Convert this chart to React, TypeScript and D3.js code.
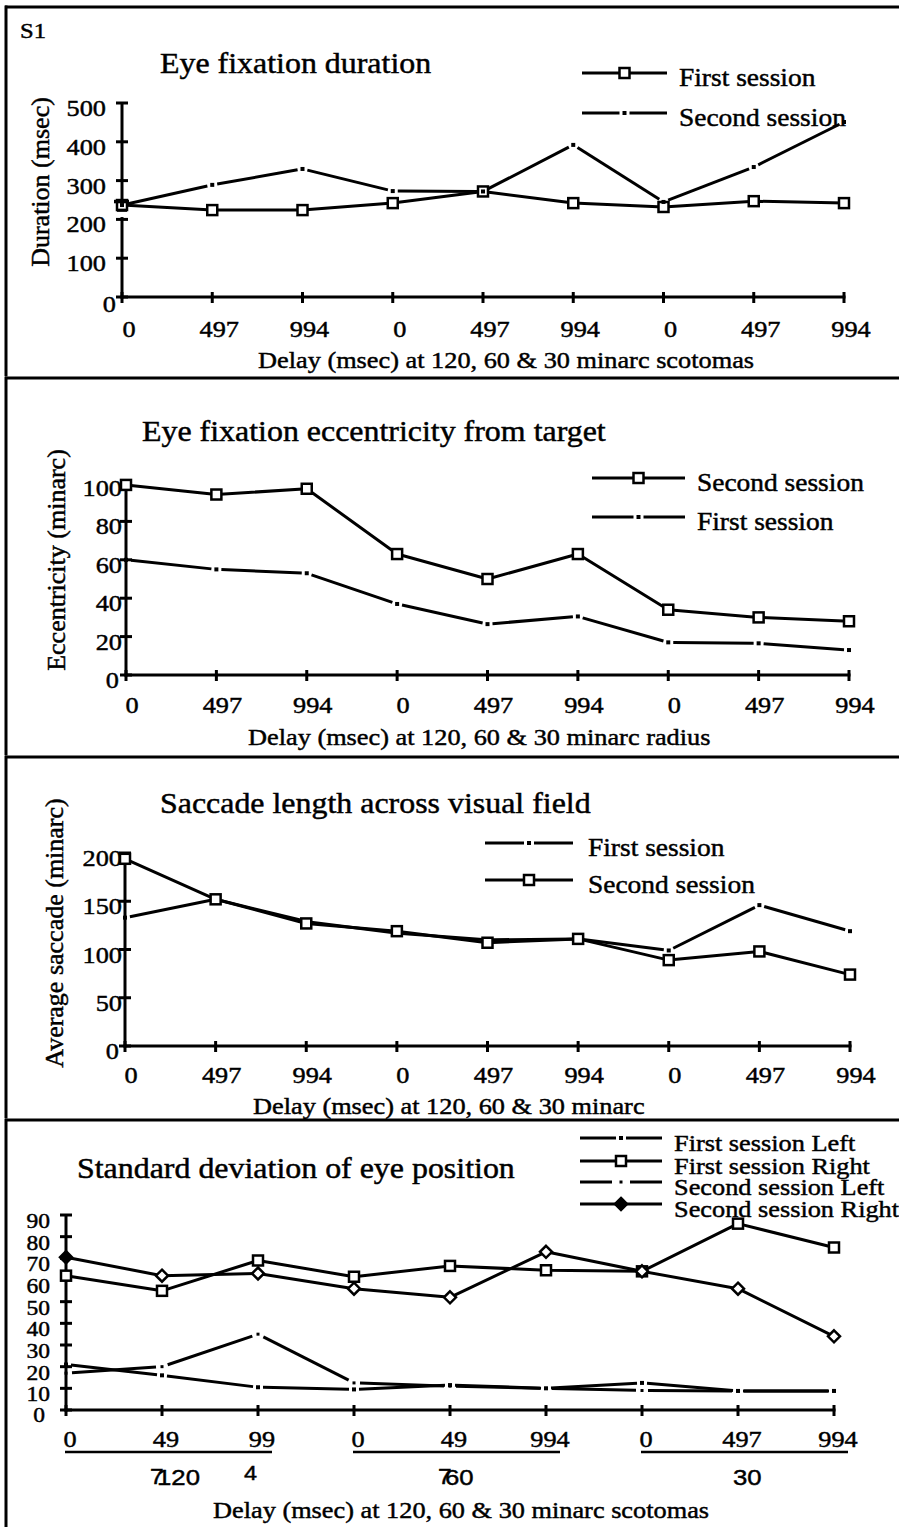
import { useEffect, useRef } from 'react';
import * as d3 from 'd3';

// shared x categories: delay (msec) for 120, 60 and 30 minarc scotomas
const delays = ['0', '497', '994', '0', '497', '994', '0', '497', '994'];
const scotomas = ['120', '60', '30'];

// Eye fixation duration (msec)
const durationTicks = [0, 100, 200, 300, 400, 500];
const durationFirst = [237, 224, 224, 242, 272, 242, 232, 247, 242];
const durationSecond = [237, 289, 330, 273, 272, 392, 245, 335, 451];

// Eye fixation eccentricity from target (minarc)
const eccTicks = [0, 20, 40, 60, 80, 100];
const eccSecond = [99, 94, 97, 63, 50, 63, 34, 30, 28];
const eccFirst = [60, 55, 53, 37, 26.5, 30.5, 17, 16.5, 13];

// Saccade length (minarc)
const saccadeTicks = [0, 50, 100, 150, 200];
const saccadeFirst = [133, 152, 129, 117, 110, 111, 99, 146, 119];
const saccadeSecond = [194, 152, 127, 119, 107, 111, 89, 98, 74];

// Standard deviation of eye position
const sdTicks = [0, 10, 20, 30, 40, 50, 60, 70, 80, 90];
const sdDelays = ['0', '49', '99', '0', '49', '994', '0', '497', '994'];
const sdWrapped = [
  { i: 1, s: '7' },
  { i: 2, s: '4' },
  { i: 4, s: '7' },
];
const sdFirstLeft = [21, 16, 10.5, 9.5, 11.5, 10, 12.5, 8.8, 8.8];
const sdFirstRight = [62, 55, 69, 61.5, 66.5, 64.5, 64, 86, 75];
const sdSecondLeft = [17, 20, 35, 12.5, 11, 10, 9, 8.8, 8.8];
const sdSecondRight = [70.5, 62, 63, 56, 52, 73, 64, 56, 34];

const SERIF = '"Liberation Serif", "Times New Roman", serif';
const SANS = '"Liberation Sans", Arial, sans-serif';
const SX = 1.12; // the scan is a bit wider than tall

type Mark = 'square' | 'diamond' | 'dot' | 'longdot';

interface Series {
  name: string;
  values: number[];
  mark: Mark;
}

interface Panel {
  top: number;
  x0: number;
  x1: number;
  y0: number;
  y1: number;
  ticks: number[];
  labels: string[];
  brk?: [number, number];
  title: string;
  titleX: number;
  titleY: number;
  yTitle?: string;
  yTitleX?: number;
  yTitleY?: number;
  xTitle: string;
  xTitleX: number;
  xTitleY: number;
  xLabelY: number;
  xLabelDx: number;
  yLabelRight: number;
  zeroRight: number;
  zeroDy: number;
  tickSize: number;
  legendX0: number;
  legendX1: number;
  legendTextX: number;
  legendSize: number;
  legendY: number[];
  series: Series[];
}

const panels: Panel[] = [
  {
    top: 7, x0: 122, x1: 844, y0: 297, y1: 103,
    ticks: durationTicks, labels: delays, brk: [206, 246],
    title: 'Eye fixation duration', titleX: 160, titleY: 73,
    yTitle: 'Duration (msec)', yTitleX: 49, yTitleY: 182,
    xTitle: 'Delay (msec) at 120, 60 & 30 minarc scotomas', xTitleX: 258, xTitleY: 368,
    xLabelY: 337, xLabelDx: 7, yLabelRight: 106, zeroRight: 116, zeroDy: 15, tickSize: 23.5,
    legendX0: 582, legendX1: 667, legendTextX: 679, legendSize: 24.5, legendY: [73, 113],
    series: [
      { name: 'First session', values: durationFirst, mark: 'square' },
      { name: 'Second session', values: durationSecond, mark: 'dot' },
    ],
  },
  {
    top: 378, x0: 126, x1: 849, y0: 675, y1: 483,
    ticks: eccTicks, labels: delays,
    title: 'Eye fixation eccentricity from target', titleX: 142, titleY: 441,
    yTitle: 'Eccentricity (minarc)', yTitleX: 65, yTitleY: 560,
    xTitle: 'Delay (msec) at 120, 60 & 30 minarc radius', xTitleX: 248, xTitleY: 745,
    xLabelY: 713, xLabelDx: 6, yLabelRight: 122, zeroRight: 119, zeroDy: 13, tickSize: 23.5,
    legendX0: 592, legendX1: 685, legendTextX: 697, legendSize: 24.5, legendY: [478, 517],
    series: [
      { name: 'Second session', values: eccSecond, mark: 'square' },
      { name: 'First session', values: eccFirst, mark: 'dot' },
    ],
  },
  {
    top: 757, x0: 125, x1: 850, y0: 1046, y1: 853,
    ticks: saccadeTicks, labels: delays,
    title: 'Saccade length across visual field', titleX: 160, titleY: 813,
    yTitle: 'Average saccade (minarc)', yTitleX: 63, yTitleY: 933,
    xTitle: 'Delay (msec) at 120, 60 & 30 minarc', xTitleX: 253, xTitleY: 1114,
    xLabelY: 1083, xLabelDx: 6, yLabelRight: 122, zeroRight: 119, zeroDy: 13, tickSize: 23.5,
    legendX0: 485, legendX1: 573, legendTextX: 588, legendSize: 24.5, legendY: [843, 880],
    series: [
      { name: 'First session', values: saccadeFirst, mark: 'dot' },
      { name: 'Second session', values: saccadeSecond, mark: 'square' },
    ],
  },
  {
    top: 1120, x0: 66, x1: 834, y0: 1410, y1: 1215,
    ticks: sdTicks, labels: sdDelays,
    title: 'Standard deviation of eye position', titleX: 77, titleY: 1178,
    xTitle: 'Delay (msec) at 120, 60 & 30 minarc scotomas', xTitleX: 213, xTitleY: 1518,
    xLabelY: 1447, xLabelDx: 4, yLabelRight: 50, zeroRight: 45, zeroDy: 12, tickSize: 21,
    legendX0: 580, legendX1: 662, legendTextX: 674, legendSize: 23.5,
    legendY: [1138, 1161, 1182, 1204],
    series: [
      { name: 'First session Left', values: sdFirstLeft, mark: 'dot' },
      { name: 'First session Right', values: sdFirstRight, mark: 'square' },
      { name: 'Second session Left', values: sdSecondLeft, mark: 'longdot' },
      { name: 'Second session Right', values: sdSecondRight, mark: 'diamond' },
    ],
  },
];

type G = d3.Selection<SVGGElement, unknown, null, undefined>;

// scanned type is heavy, so every label gets a thin outline
function label(g: G, x: number, y: number, str: string, size: number, anchor = 'start', family = SERIF) {
  g.append('text')
    .attr('transform', `translate(${x},${y}) scale(${SX},1)`)
    .attr('text-anchor', anchor)
    .attr('font-family', family)
    .attr('font-size', size)
    .attr('fill', '#000')
    .attr('stroke', '#000')
    .attr('stroke-width', 0.45)
    .text(str);
}

function seg(g: G, x1: number, y1: number, x2: number, y2: number, w = 3) {
  g.append('line')
    .attr('x1', x1).attr('y1', y1).attr('x2', x2).attr('y2', y2)
    .attr('stroke', '#000').attr('stroke-width', w);
}

function marker(g: G, x: number, y: number, mark: Mark, filled = false) {
  if (mark === 'square') {
    g.append('rect')
      .attr('x', x - 5).attr('y', y - 5).attr('width', 10).attr('height', 10)
      .attr('fill', filled ? '#000' : '#fff').attr('stroke', '#000').attr('stroke-width', 2.5);
  } else if (mark === 'diamond') {
    g.append('path')
      .attr('d', `M${x},${y - 6}L${x + 6},${y}L${x},${y + 6}L${x - 6},${y}Z`)
      .attr('fill', filled ? '#000' : '#fff').attr('stroke', '#000').attr('stroke-width', 2.5);
  } else {
    const s = mark === 'dot' ? 4 : 3;
    g.append('rect')
      .attr('x', x - s / 2).attr('y', y - s / 2).attr('width', s).attr('height', s)
      .attr('fill', '#000');
  }
}

// dash-dot lines: a gap either side of every vertex, with a dot on it
function dashed(g: G, pts: [number, number][], gap: number) {
  for (let i = 0; i < pts.length - 1; i++) {
    const [ax, ay] = pts[i];
    const [bx, by] = pts[i + 1];
    const len = Math.hypot(bx - ax, by - ay);
    const ux = (bx - ax) / len;
    const uy = (by - ay) / len;
    seg(g, ax + ux * gap, ay + uy * gap, bx - ux * gap, by - uy * gap);
  }
}

function drawPanel(svg: d3.Selection<SVGSVGElement, unknown, null, undefined>, p: Panel, bottom: number) {
  const g = svg.append('g') as unknown as G;

  // frame
  seg(g, 5, p.top, 899, p.top);
  seg(g, 6, p.top - 1.5, 6, bottom);

  const x = d3.scalePoint<number>().domain(d3.range(p.labels.length)).range([p.x0, p.x1]);
  const y = d3.scaleLinear().domain([0, p.ticks[p.ticks.length - 1]]).range([p.y0, p.y1]);

  // y axis (with a break where needed)
  if (p.brk) {
    seg(g, p.x0, y(0) + 1.5, p.x0, y(p.brk[0]));
    seg(g, p.x0, y(p.brk[1]), p.x0, y.range()[1]);
  } else {
    seg(g, p.x0, y(0) + 1.5, p.x0, y.range()[1]);
  }
  p.ticks.forEach((t) => {
    seg(g, p.x0 - 6, y(t), p.x0 + 6, y(t));
    if (t === 0) label(g, p.zeroRight, y(t) + p.zeroDy, String(t), p.tickSize, 'end');
    else label(g, p.yLabelRight, y(t) + 13, String(t), p.tickSize, 'end');
  });

  // x axis
  seg(g, p.x0 - 1.5, p.y0, p.x1 + 1.5, p.y0);
  p.labels.forEach((l, i) => {
    seg(g, x(i)!, p.y0 - 5, x(i)!, p.y0 + 6);
    label(g, x(i)! + p.xLabelDx, p.xLabelY, l, 23.5, 'middle');
  });

  // titles
  label(g, p.titleX, p.titleY, p.title, 28.5);
  label(g, p.xTitleX, p.xTitleY, p.xTitle, 23.5);
  if (p.yTitle) {
    g.append('text')
      .attr('transform', `translate(${p.yTitleX},${p.yTitleY}) rotate(-90)`)
      .attr('text-anchor', 'middle')
      .attr('font-family', SERIF)
      .attr('font-size', 26)
      .attr('stroke', '#000')
      .attr('stroke-width', 0.45)
      .text(p.yTitle);
  }

  // series
  p.series.forEach((s) => {
    const pts = s.values.map((v, i) => [x(i)!, y(v)] as [number, number]);
    if (s.mark === 'square' || s.mark === 'diamond') {
      g.append('path')
        .attr('d', d3.line()(pts)!)
        .attr('fill', 'none')
        .attr('stroke', '#000')
        .attr('stroke-width', 3)
        .attr('stroke-linejoin', 'round');
    } else {
      dashed(g, pts, s.mark === 'dot' ? 5 : 6);
    }
    pts.forEach(([px, py], i) => marker(g, px, py, s.mark, s.mark === 'diamond' && i === 0));
  });

  // axis break marks sit on top of the first markers
  if (p.brk) {
    const yb = y(p.brk[1]);
    const ym = (y(p.brk[0]) + yb) / 2 + 1;
    seg(g, p.x0 - 8, yb, p.x0 + 7, yb, 3.5);
    seg(g, p.x0 - 5, ym, p.x0 + 5, ym, 3);
  }

  // legend
  p.series.forEach((s, i) => {
    const ly = p.legendY[i];
    const mid = (p.legendX0 + p.legendX1) / 2;
    if (s.mark === 'square' || s.mark === 'diamond') {
      seg(g, p.legendX0, ly, p.legendX1, ly);
      marker(g, mid, ly, s.mark, s.mark === 'diamond');
    } else {
      const gap = s.mark === 'dot' ? 5 : 9;
      seg(g, p.legendX0, ly, mid - gap, ly);
      seg(g, mid + gap, ly, p.legendX1, ly);
      marker(g, mid, ly, s.mark);
    }
    label(g, p.legendTextX, ly + 13, s.name, p.legendSize);
  });

  return { g, x };
}

export default function App() {
  const svgRef = useRef<SVGSVGElement>(null);

  useEffect(() => {
    if (!svgRef.current) return;
    const svg = d3.select(svgRef.current);
    svg.selectAll('*').remove();

    svg.append('rect').attr('width', 899).attr('height', 1527).attr('fill', '#fff');

    let last: { g: G; x: d3.ScalePoint<number> } | null = null;
    panels.forEach((p, k) => {
      const bottom = k < panels.length - 1 ? panels[k + 1].top - 2 : 1527;
      last = drawPanel(svg, p, bottom);
    });

    // panel 1 label
    const g0 = svg.append('g') as unknown as G;
    label(g0, 20, 38, 'S1', 22);

    // last panel: underlined scotoma groups and wrapped tick digits
    if (last) {
      const { g, x } = last as { g: G; x: d3.ScalePoint<number> };
      scotomas.forEach((s, k) => {
        seg(g, x(k * 3)! - 1, 1452, x(k * 3 + 2)! + 14, 1452, 2.5);
        label(g, x(k * 3 + 1)! - 5, 1485, s, 23, 'start', SANS);
      });
      sdWrapped.forEach((w) => {
        label(g, x(w.i)! - (w.s === '4' ? 14 : 12), w.s === '4' ? 1480 : 1484, w.s, w.s === '4' ? 21 : 22, 'start', SANS);
      });
    }
  }, []);

  return (
    <svg
      ref={svgRef}
      width={899}
      height={1527}
      style={{ position: 'absolute', left: 0, top: 0 }}
    />
  );
}
